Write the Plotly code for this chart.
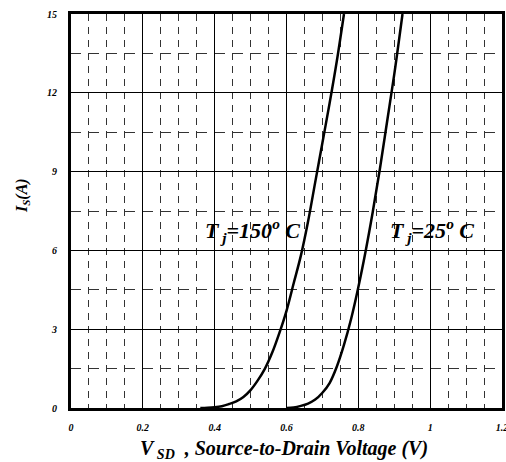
import plotly.graph_objects as go

# Tj = 150 C curve
v150 = [0.36, 0.38, 0.40, 0.42, 0.44, 0.46, 0.48, 0.50, 0.52, 0.54, 0.56, 0.58, 0.60,
        0.62, 0.64, 0.66, 0.68, 0.70, 0.72, 0.74, 0.76]
i150 = [0.0, 0.01, 0.03, 0.07, 0.15, 0.25, 0.42, 0.68, 1.05, 1.5, 2.1, 2.85, 3.7,
        4.75, 5.8, 7.1, 8.6, 10.1, 11.6, 13.2, 15.0]

# Tj = 25 C curve
v25 = [0.60, 0.62, 0.64, 0.66, 0.68, 0.70, 0.72, 0.74, 0.76, 0.78, 0.80, 0.82, 0.84,
       0.86, 0.88, 0.90, 0.923]
i25 = [0.0, 0.02, 0.08, 0.17, 0.32, 0.58, 0.95, 1.57, 2.4, 3.4, 4.6, 5.95, 7.45,
       9.1, 10.9, 12.7, 15.0]

x_ticks = [0, 0.2, 0.4, 0.6, 0.8, 1.0, 1.2]
x_labels = ["0", "0.2", "0.4", "0.6", "0.8", "1", "1.2"]
y_ticks = [0, 3, 6, 9, 12, 15]
y_labels = ["0", "3", "6", "9", "12", "15"]

FONT = "Liberation Serif"

fig = go.Figure()
for vx, iy in [(v150, i150), (v25, i25)]:
    fig.add_trace(go.Scatter(x=vx, y=iy, mode="lines",
                             line=dict(color="black", width=2.5, shape="spline", smoothing=1.0),
                             showlegend=False, hoverinfo="skip"))

tickfont = dict(family=FONT, size=10, color="black", weight="bold", style="italic")

fig.update_layout(
    width=512, height=462,
    margin=dict(l=71, r=4, t=14, b=54),
    paper_bgcolor="white", plot_bgcolor="white",
    xaxis=dict(range=[0, 1.2], tickvals=x_ticks, ticktext=x_labels, tickfont=tickfont,
               showgrid=True, gridcolor="black", gridwidth=1,
               minor=dict(dtick=0.05, tick0=0, showgrid=True, gridcolor="#333333",
                          gridwidth=1, griddash="7px,6px"),
               showline=True, linecolor="black", linewidth=3, mirror=True,
               zeroline=False, ticks="", ticklabelstandoff=8, fixedrange=True),
    yaxis=dict(range=[0, 15], tickvals=y_ticks, ticktext=y_labels, tickfont=tickfont,
               showgrid=True, gridcolor="black", gridwidth=1,
               minor=dict(dtick=1.5, tick0=0, showgrid=True, gridcolor="#333333",
                          gridwidth=1, griddash="10px,8px"),
               showline=True, linecolor="black", linewidth=3, mirror=True,
               zeroline=False, ticks="", ticklabelstandoff=9, fixedrange=True),
)

fig.add_annotation(xref="paper", yref="paper", x=0.495, y=-0.105, yanchor="middle",
                   text="V<sub> SD</sub>  , Source-to-Drain Voltage (V)", showarrow=False,
                   font=dict(family=FONT, size=20, color="black", weight="bold", style="italic"))
fig.add_annotation(xref="paper", yref="paper", x=-0.114, y=0.54, xanchor="center",
                   yanchor="middle", textangle=-90,
                   text="I<sub>S</sub>(A)", showarrow=False,
                   font=dict(family=FONT, size=16, color="black", weight="bold", style="italic"))

label_font = dict(family=FONT, size=22, color="black", weight="bold", style="italic")
fig.add_annotation(x=0.505, y=6.75, text="T<sub> j</sub>=150<sup>o</sup> C", showarrow=False,
                   font=label_font)
fig.add_annotation(x=1.005, y=6.75, text="T<sub> j</sub>=25<sup>o</sup> C", showarrow=False,
                   font=label_font)

fig.write_html("out.html", config={"displayModeBar": False},
               post_script="document.body.style.margin='0';document.body.style.overflow='hidden';")
